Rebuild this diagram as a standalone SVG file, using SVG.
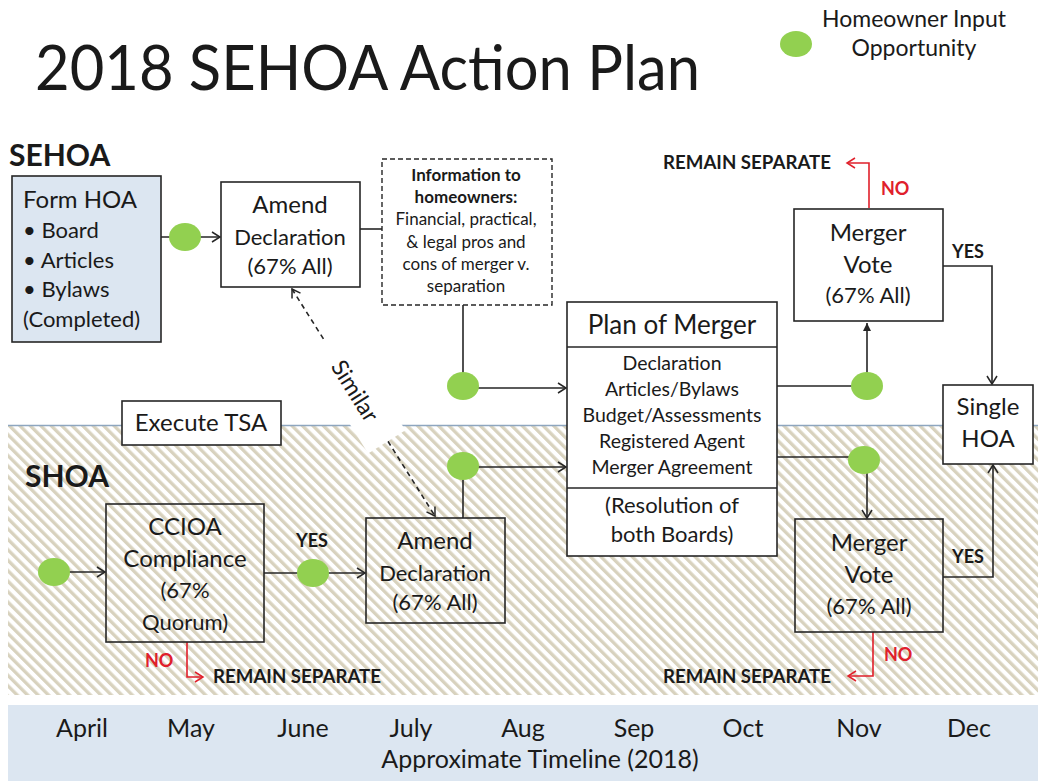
<svg xmlns="http://www.w3.org/2000/svg" width="1038" height="781" viewBox="0 0 1038 781">
  <defs>
    <pattern id="hatch" width="7.4" height="10" patternUnits="userSpaceOnUse" patternTransform="rotate(-45)">
      <rect width="7.4" height="10" fill="#ffffff"/>
      <rect width="3.3" height="10" fill="#d8d2be"/>
    </pattern>
    <marker id="arrow" markerUnits="userSpaceOnUse" markerWidth="14" markerHeight="14" refX="10" refY="6" orient="auto-start-reverse">
      <path d="M2,1 L10,6 L2,11" fill="none" stroke="#262626" stroke-width="1.5"/>
    </marker>
    <marker id="arrow-red" markerUnits="userSpaceOnUse" markerWidth="14" markerHeight="14" refX="10" refY="6" orient="auto">
      <path d="M2,1 L10,6 L2,11" fill="none" stroke="#e0202b" stroke-width="1.5"/>
    </marker>
    <marker id="tri" markerUnits="userSpaceOnUse" markerWidth="12" markerHeight="12" refX="9" refY="5" orient="auto">
      <path d="M1,1 L9,5 L1,9 Z" fill="#262626"/>
    </marker>
  </defs>
  <style>
    text { font-family: Lato, "Liberation Sans", sans-serif; fill: #1a1a1a; }
    .box { fill: #ffffff; stroke: #262626; stroke-width: 1.6; }
    .clear { fill: none; stroke: #262626; stroke-width: 1.6; }
    .dot { fill: #92d050; }
    .c { text-anchor: middle; }
    .lbl { font-weight: bold; font-size: 18px; }
    .red { fill: #e0202b; }
    .link { fill: none; stroke: #262626; stroke-width: 1.6; }
    .no { fill: none; stroke: #e0202b; stroke-width: 1.6; }
    .t22 { font-size: 22px; }
    .t24 { font-size: 24px; }
    .month { font-size: 25px; text-anchor: middle; }
    .info { font-size: 17px; text-anchor: middle; }
  </style>

  <rect width="1038" height="781" fill="#ffffff"/>

  <!-- SHOA band and separator -->
  <rect x="8" y="426" width="1030" height="269" fill="url(#hatch)"/>
  <line x1="8" y1="425.5" x2="1038" y2="425.5" stroke="#8ea6bf" stroke-width="1.5"/>

  <!-- timeline band -->
  <g id="timeline">
    <rect x="8" y="705" width="1030" height="76" fill="#dce6f1"/>
    <text class="month" x="82" y="737">April</text>
    <text class="month" x="191" y="737">May</text>
    <text class="month" x="303" y="737">June</text>
    <text class="month" x="411" y="737">July</text>
    <text class="month" x="523" y="737">Aug</text>
    <text class="month" x="634" y="737">Sep</text>
    <text class="month" x="743" y="737">Oct</text>
    <text class="month" x="859" y="737">Nov</text>
    <text class="month" x="969" y="737">Dec</text>
    <text class="month" x="540" y="768">Approximate Timeline (2018)</text>
  </g>

  <!-- title and legend -->
  <text x="35" y="90" font-size="62" textLength="665" lengthAdjust="spacingAndGlyphs">2018 SEHOA Action Plan</text>
  <g id="legend">
    <ellipse class="dot" cx="796" cy="44" rx="16" ry="13"/>
    <text class="c" x="914" y="27" font-size="23">Homeowner Input</text>
    <text class="c" x="914" y="56" font-size="23">Opportunity</text>
  </g>

  <text x="9" y="166" font-size="30" font-weight="bold">SEHOA</text>
  <text x="25" y="487" font-size="30" font-weight="bold">SHOA</text>

  <!-- connectors -->
  <g id="connectors">
    <!-- SEHOA upper flow -->
    <line class="link" x1="161" y1="237" x2="220" y2="237" marker-end="url(#arrow)"/>
    <line class="link" x1="360" y1="229" x2="382" y2="229"/>
    <polyline class="link" points="463,305 463,388 566,388" marker-end="url(#arrow)"/>
    <polyline class="link" points="777,386 867,386 867,323" marker-end="url(#tri)"/>
    <polyline class="link" points="943,266 992,266 992,384" marker-end="url(#arrow)"/>
    <polyline class="no" points="869,208 869,163 847,163" marker-end="url(#arrow-red)"/>

    <!-- SHOA lower flow -->
    <line class="link" x1="54" y1="572" x2="105" y2="572" marker-end="url(#arrow)"/>
    <line class="link" x1="264" y1="573" x2="365" y2="573" marker-end="url(#arrow)"/>
    <polyline class="no" points="187,642 187,677 203,677" marker-end="url(#arrow-red)"/>
    <polyline class="link" points="463,518 463,467 566,467" marker-end="url(#arrow)"/>
    <polyline class="link" points="777,457 867,457 867,518" marker-end="url(#arrow)"/>
    <polyline class="link" points="943,577 993,577 993,465" marker-end="url(#arrow)"/>
    <polyline class="no" points="873,632 873,676 848,676" marker-end="url(#arrow-red)"/>

    <!-- similarity link between the two declaration amendments -->
    <line class="link" x1="292" y1="289" x2="435" y2="516" stroke-dasharray="5 4" marker-start="url(#arrow)" marker-end="url(#arrow)"/>
  </g>

  <!-- green input dots -->
  <g id="input-dots">
    <ellipse class="dot" cx="185" cy="237" rx="16" ry="14"/>
    <ellipse class="dot" cx="463" cy="386" rx="16" ry="14"/>
    <ellipse class="dot" cx="867" cy="386" rx="16" ry="14"/>
    <ellipse class="dot" cx="463" cy="466" rx="16" ry="14"/>
    <ellipse class="dot" cx="864" cy="460" rx="16" ry="14"/>
    <ellipse class="dot" cx="54" cy="572" rx="16" ry="14"/>
    <ellipse class="dot" cx="313" cy="573" rx="16" ry="14"/>
  </g>

  <!-- label on the similarity link -->
  <g id="similar-label" transform="translate(355,391) rotate(58)">
    <rect x="-60" y="-22" width="120" height="44" fill="#ffffff"/>
    <text class="c" x="0" y="8" font-size="23">Similar</text>
  </g>

  <g id="form-hoa">
    <rect x="12" y="176" width="149" height="166" fill="#dce6f1" stroke="#262626" stroke-width="1.6"/>
    <text x="23" y="208" class="t24">Form HOA</text>
    <text x="23" y="238" class="t22">• Board</text>
    <text x="23" y="268" class="t22">• Articles</text>
    <text x="23" y="297" class="t22">• Bylaws</text>
    <text x="23" y="327" class="t22">(Completed)</text>
  </g>

  <g id="amend-sehoa">
    <rect class="box" x="221" y="182" width="139" height="105"/>
    <text class="c t24" x="290" y="213">Amend</text>
    <text class="c t22" x="290" y="245">Declaration</text>
    <text class="c t22" x="290" y="274">(67% All)</text>
  </g>

  <g id="info">
    <rect x="382" y="159" width="170" height="146" fill="#ffffff" stroke="#262626" stroke-width="1.4" stroke-dasharray="5 3"/>
    <text class="info" x="466" y="181" font-weight="bold">Information to</text>
    <text class="info" x="466" y="203" font-weight="bold">homeowners:</text>
    <text class="info" x="466" y="225">Financial, practical,</text>
    <text class="info" x="466" y="248">&amp; legal pros and</text>
    <text class="info" x="466" y="270">cons of merger v.</text>
    <text class="info" x="466" y="292">separation</text>
  </g>

  <g id="plan-of-merger">
    <rect class="box" x="567" y="302" width="210" height="254"/>
    <line x1="567" y1="347" x2="777" y2="347" stroke="#262626" stroke-width="1.6"/>
    <line x1="567" y1="488" x2="777" y2="488" stroke="#262626" stroke-width="1.6"/>
    <text class="c" x="672" y="334" font-size="26">Plan of Merger</text>
    <text class="c" x="672" y="370" font-size="19.5">Declaration</text>
    <text class="c" x="672" y="396" font-size="19.5">Articles/Bylaws</text>
    <text class="c" x="672" y="422" font-size="19.5">Budget/Assessments</text>
    <text class="c" x="672" y="448" font-size="19.5">Registered Agent</text>
    <text class="c" x="672" y="474" font-size="19.5">Merger Agreement</text>
    <text class="c t22" x="672" y="513">(Resolution of</text>
    <text class="c t22" x="672" y="542">both Boards)</text>
  </g>

  <g id="vote-sehoa">
    <rect class="box" x="794" y="209" width="149" height="112"/>
    <text class="c t24" x="868" y="241">Merger</text>
    <text class="c t24" x="868" y="273">Vote</text>
    <text class="c t22" x="868" y="303">(67% All)</text>
  </g>

  <g id="single-hoa">
    <rect class="box" x="943" y="385" width="90" height="79"/>
    <text class="c t24" x="988" y="415">Single</text>
    <text class="c t24" x="988" y="447">HOA</text>
  </g>

  <g id="execute-tsa">
    <rect class="box" x="122" y="401" width="159" height="44"/>
    <text class="c t24" x="201" y="431">Execute TSA</text>
  </g>

  <g id="ccioa">
    <rect class="clear" x="106" y="504" width="158" height="138"/>
    <text class="c t24" x="185" y="535">CCIOA</text>
    <text class="c t24" x="185" y="567">Compliance</text>
    <text class="c t22" x="185" y="598">(67%</text>
    <text class="c t22" x="185" y="630">Quorum)</text>
  </g>

  <g id="amend-shoa">
    <rect class="clear" x="366" y="518" width="139" height="105"/>
    <text class="c t24" x="435" y="549">Amend</text>
    <text class="c t22" x="435" y="581">Declaration</text>
    <text class="c t22" x="435" y="610">(67% All)</text>
  </g>

  <g id="vote-shoa">
    <rect class="clear" x="795" y="519" width="148" height="113"/>
    <text class="c t24" x="869" y="551">Merger</text>
    <text class="c t24" x="869" y="583">Vote</text>
    <text class="c t22" x="869" y="614">(67% All)</text>
  </g>

  <!-- decision labels -->
  <g id="decision-labels">
    <text class="lbl" x="663" y="169" textLength="168" lengthAdjust="spacingAndGlyphs">REMAIN SEPARATE</text>
    <text class="lbl red" x="881" y="195">NO</text>
    <text class="lbl" x="952" y="258" font-size="17">YES</text>
    <text class="lbl" x="296" y="547" font-size="17">YES</text>
    <text class="lbl red" x="145" y="667">NO</text>
    <text class="lbl" x="213" y="683" textLength="168" lengthAdjust="spacingAndGlyphs">REMAIN SEPARATE</text>
    <text class="lbl" x="952" y="563" font-size="17">YES</text>
    <text class="lbl red" x="884" y="661">NO</text>
    <text class="lbl" x="663" y="683" textLength="168" lengthAdjust="spacingAndGlyphs">REMAIN SEPARATE</text>
  </g>
</svg>
